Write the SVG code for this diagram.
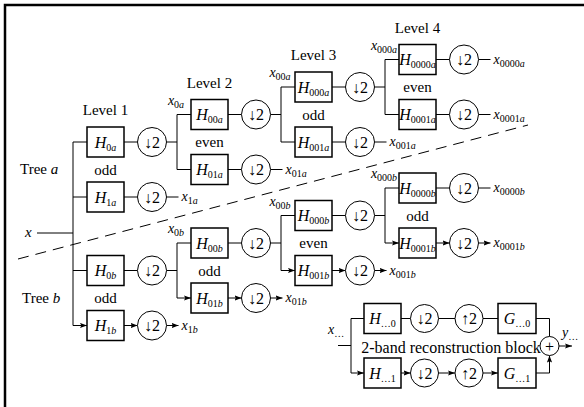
<svg xmlns="http://www.w3.org/2000/svg" width="584" height="407" viewBox="0 0 584 407">
<defs>
<marker id="ah" viewBox="0 0 7 6" refX="7" refY="3" markerWidth="7" markerHeight="6" markerUnits="userSpaceOnUse" orient="auto"><path d="M0,0.4 L7,3 L0,5.6 L1.3,3 z" fill="#000"/></marker>
<style>
.box{fill:#fff;stroke:#000;stroke-width:1.5}
.ds{fill:#fff;stroke:#000;stroke-width:1}
.w{fill:none;stroke:#000;stroke-width:1}
.a{fill:none;stroke:#000;stroke-width:1;marker-end:url(#ah)}
.dash{fill:none;stroke:#000;stroke-width:1;stroke-dasharray:11 7}
text{font-family:"Liberation Serif","Times New Roman",serif;fill:#000}
.m{font-size:16px;font-style:italic;text-anchor:middle}
.c{font-size:16px;text-anchor:middle}
.lb{font-size:15px}
.mid{text-anchor:middle}
.v{font-size:14px;font-style:italic}
.s{font-size:10px;font-style:normal}
.i{font-style:italic}
</style>
</defs>
<path d="M5,407 V5 H584" fill="none" stroke="#000" stroke-width="2.5"/>

<g id="connectors">
<path class="w" d="M37,233 H73 M73,142 V325.5"/>
<path class="a" d="M73,142 H87 M73,197 H87 M73,270.5 H87 M73,325.5 H87"/>
<path class="a" d="M124,142 H137.5 M124,197 H137.5 M124,270.5 H137.5 M124,325.5 H137.5"/>
<path class="a" d="M228,114.5 H241.5 M228,169.5 H241.5 M228,243 H241.5 M228,298 H241.5"/>
<path class="a" d="M332,87 H345.5 M332,142 H345.5 M332,215.5 H345.5 M332,270.5 H345.5"/>
<path class="a" d="M436,59.5 H449.5 M436,114.5 H449.5 M436,188 H449.5 M436,243 H449.5"/>
<path class="w" d="M166.5,142 H177 M177,114.5 V169.5 M166.5,270.5 H177 M177,243 V298"/>
<path class="w" d="M270.5,114.5 H281 M281,87 V142 M270.5,243 H281 M281,215.5 V270.5"/>
<path class="w" d="M374.5,87 H385 M385,59.5 V114.5 M374.5,215.5 H385 M385,188 V243"/>
<path class="a" d="M177,114.5 H191 M177,169.5 H191 M177,243 H191 M177,298 H191"/>
<path class="a" d="M281,87 H295 M281,142 H295 M281,215.5 H295 M281,270.5 H295"/>
<path class="a" d="M385,59.5 H399 M385,114.5 H399 M385,188 H399 M385,243 H399"/>
<path class="a" d="M166.5,197 H178.5 M166.5,325.5 H178.5"/>
<path class="a" d="M270.5,169.5 H282.5 M270.5,298 H282.5"/>
<path class="a" d="M374.5,142 H386.5 M374.5,270.5 H386.5"/>
<path class="a" d="M478.5,59.5 H490.5 M478.5,114.5 H490.5 M478.5,188 H490.5 M478.5,243 H490.5"/>
<path class="dash" d="M18,259 L528,125"/>
<path class="w" d="M338,345.5 H351 M351,318.5 V373"/>
<path class="a" d="M351,318.5 H364 M351,373 H364"/>
<path class="a" d="M401,318.5 H410.5 M401,373 H410.5"/>
<path class="a" d="M438.5,318.5 H455 M438.5,373 H455"/>
<path class="a" d="M483,318.5 H498 M483,373 H498"/>
<path class="a" d="M536,318.5 H549.5 V336.5 M536,373 H549.5 V355.5"/>
<path class="a" d="M559,346 H572"/>
</g>

<g id="labels">
<text class="lb mid" x="105.5" y="115">Level 1</text>
<text class="lb mid" x="209.5" y="87.5">Level 2</text>
<text class="lb mid" x="313.5" y="60">Level 3</text>
<text class="lb mid" x="417.5" y="32.5">Level 4</text>
<text class="lb" x="20" y="174">Tree <tspan class="i">a</tspan></text>
<text class="lb" x="22" y="303">Tree <tspan class="i">b</tspan></text>
<text class="lb mid" x="105.5" y="174.5">odd</text>
<text class="lb mid" x="209.5" y="147">even</text>
<text class="lb mid" x="313.5" y="119.5">odd</text>
<text class="lb mid" x="417.5" y="92">even</text>
<text class="lb mid" x="105.5" y="303">odd</text>
<text class="lb mid" x="209.5" y="275.5">odd</text>
<text class="lb mid" x="313.5" y="248">even</text>
<text class="lb mid" x="417.5" y="220.5">odd</text>
<text class="v" x="25" y="237" style="font-size:15px">x</text>
<text class="v mid" x="176" y="104.5">x<tspan class="s" dy="3">0<tspan class="i">a</tspan></tspan></text>
<text class="v mid" x="280" y="77">x<tspan class="s" dy="3">00<tspan class="i">a</tspan></tspan></text>
<text class="v mid" x="384" y="49.5">x<tspan class="s" dy="3">000<tspan class="i">a</tspan></tspan></text>
<text class="v mid" x="176" y="233">x<tspan class="s" dy="3">0<tspan class="i">b</tspan></tspan></text>
<text class="v mid" x="280" y="205.5">x<tspan class="s" dy="3">00<tspan class="i">b</tspan></tspan></text>
<text class="v mid" x="384" y="178">x<tspan class="s" dy="3">000<tspan class="i">b</tspan></tspan></text>
<text class="v" x="181.5" y="201">x<tspan class="s" dy="3">1<tspan class="i">a</tspan></tspan></text>
<text class="v" x="181.5" y="329.5">x<tspan class="s" dy="3">1<tspan class="i">b</tspan></tspan></text>
<text class="v" x="285.5" y="173.5">x<tspan class="s" dy="3">01<tspan class="i">a</tspan></tspan></text>
<text class="v" x="285.5" y="302">x<tspan class="s" dy="3">01<tspan class="i">b</tspan></tspan></text>
<text class="v" x="389.5" y="146">x<tspan class="s" dy="3">001<tspan class="i">a</tspan></tspan></text>
<text class="v" x="389.5" y="274.5">x<tspan class="s" dy="3">001<tspan class="i">b</tspan></tspan></text>
<text class="v" x="493.5" y="63.5">x<tspan class="s" dy="3">0000<tspan class="i">a</tspan></tspan></text>
<text class="v" x="493.5" y="118.5">x<tspan class="s" dy="3">0001<tspan class="i">a</tspan></tspan></text>
<text class="v" x="493.5" y="192">x<tspan class="s" dy="3">0000<tspan class="i">b</tspan></tspan></text>
<text class="v" x="493.5" y="247">x<tspan class="s" dy="3">0001<tspan class="i">b</tspan></tspan></text>
<text class="v" x="328" y="334">x<tspan class="s" dy="2.5">…</tspan></text>
<text class="v" x="562" y="337">y<tspan class="s" dy="2.5">…</tspan></text>
<text class="c" x="451" y="353">2-band reconstruction block</text>
</g>

<g id="H0a"><rect class="box" x="87" y="127" width="37" height="30"/><text class="m" x="105.5" y="147.5">H<tspan class="s" dy="3">0<tspan class="i">a</tspan></tspan></text></g>
<g id="D0a"><circle class="ds" cx="152" cy="142" r="14.5"/><text class="c" x="152" y="147.5">↓2</text></g>
<g id="H1a"><rect class="box" x="87" y="182" width="37" height="30"/><text class="m" x="105.5" y="202.5">H<tspan class="s" dy="3">1<tspan class="i">a</tspan></tspan></text></g>
<g id="D1a"><circle class="ds" cx="152" cy="197" r="14.5"/><text class="c" x="152" y="202.5">↓2</text></g>
<g id="H00a"><rect class="box" x="191" y="99.5" width="37" height="30"/><text class="m" x="209.5" y="120">H<tspan class="s" dy="3">00<tspan class="i">a</tspan></tspan></text></g>
<g id="D00a"><circle class="ds" cx="256" cy="114.5" r="14.5"/><text class="c" x="256" y="120">↓2</text></g>
<g id="H01a"><rect class="box" x="191" y="154.5" width="37" height="30"/><text class="m" x="209.5" y="175">H<tspan class="s" dy="3">01<tspan class="i">a</tspan></tspan></text></g>
<g id="D01a"><circle class="ds" cx="256" cy="169.5" r="14.5"/><text class="c" x="256" y="175">↓2</text></g>
<g id="H000a"><rect class="box" x="295" y="72" width="37" height="30"/><text class="m" x="313.5" y="92.5">H<tspan class="s" dy="3">000<tspan class="i">a</tspan></tspan></text></g>
<g id="D000a"><circle class="ds" cx="360" cy="87" r="14.5"/><text class="c" x="360" y="92.5">↓2</text></g>
<g id="H001a"><rect class="box" x="295" y="127" width="37" height="30"/><text class="m" x="313.5" y="147.5">H<tspan class="s" dy="3">001<tspan class="i">a</tspan></tspan></text></g>
<g id="D001a"><circle class="ds" cx="360" cy="142" r="14.5"/><text class="c" x="360" y="147.5">↓2</text></g>
<g id="H0000a"><rect class="box" x="399" y="44.5" width="37" height="30"/><text class="m" x="417.5" y="65">H<tspan class="s" dy="3">0000<tspan class="i">a</tspan></tspan></text></g>
<g id="D0000a"><circle class="ds" cx="464" cy="59.5" r="14.5"/><text class="c" x="464" y="65">↓2</text></g>
<g id="H0001a"><rect class="box" x="399" y="99.5" width="37" height="30"/><text class="m" x="417.5" y="120">H<tspan class="s" dy="3">0001<tspan class="i">a</tspan></tspan></text></g>
<g id="D0001a"><circle class="ds" cx="464" cy="114.5" r="14.5"/><text class="c" x="464" y="120">↓2</text></g>

<g id="H0b"><rect class="box" x="87" y="255.5" width="37" height="30"/><text class="m" x="105.5" y="276">H<tspan class="s" dy="3">0<tspan class="i">b</tspan></tspan></text></g>
<g id="D0b"><circle class="ds" cx="152" cy="270.5" r="14.5"/><text class="c" x="152" y="276">↓2</text></g>
<g id="H1b"><rect class="box" x="87" y="310.5" width="37" height="30"/><text class="m" x="105.5" y="331">H<tspan class="s" dy="3">1<tspan class="i">b</tspan></tspan></text></g>
<g id="D1b"><circle class="ds" cx="152" cy="325.5" r="14.5"/><text class="c" x="152" y="331">↓2</text></g>
<g id="H00b"><rect class="box" x="191" y="228" width="37" height="30"/><text class="m" x="209.5" y="248.5">H<tspan class="s" dy="3">00<tspan class="i">b</tspan></tspan></text></g>
<g id="D00b"><circle class="ds" cx="256" cy="243" r="14.5"/><text class="c" x="256" y="248.5">↓2</text></g>
<g id="H01b"><rect class="box" x="191" y="283" width="37" height="30"/><text class="m" x="209.5" y="303.5">H<tspan class="s" dy="3">01<tspan class="i">b</tspan></tspan></text></g>
<g id="D01b"><circle class="ds" cx="256" cy="298" r="14.5"/><text class="c" x="256" y="303.5">↓2</text></g>
<g id="H000b"><rect class="box" x="295" y="200.5" width="37" height="30"/><text class="m" x="313.5" y="221">H<tspan class="s" dy="3">000<tspan class="i">b</tspan></tspan></text></g>
<g id="D000b"><circle class="ds" cx="360" cy="215.5" r="14.5"/><text class="c" x="360" y="221">↓2</text></g>
<g id="H001b"><rect class="box" x="295" y="255.5" width="37" height="30"/><text class="m" x="313.5" y="276">H<tspan class="s" dy="3">001<tspan class="i">b</tspan></tspan></text></g>
<g id="D001b"><circle class="ds" cx="360" cy="270.5" r="14.5"/><text class="c" x="360" y="276">↓2</text></g>
<g id="H0000b"><rect class="box" x="399" y="173" width="37" height="30"/><text class="m" x="417.5" y="193.5">H<tspan class="s" dy="3">0000<tspan class="i">b</tspan></tspan></text></g>
<g id="D0000b"><circle class="ds" cx="464" cy="188" r="14.5"/><text class="c" x="464" y="193.5">↓2</text></g>
<g id="H0001b"><rect class="box" x="399" y="228" width="37" height="30"/><text class="m" x="417.5" y="248.5">H<tspan class="s" dy="3">0001<tspan class="i">b</tspan></tspan></text></g>
<g id="D0001b"><circle class="ds" cx="464" cy="243" r="14.5"/><text class="c" x="464" y="248.5">↓2</text></g>

<g id="Hr0"><rect class="box" x="364" y="303.5" width="37" height="30"/><text class="m" x="382.5" y="324">H<tspan class="s" dy="3">…0</tspan></text></g>
<g id="Dr0"><circle class="ds" cx="424.5" cy="318.5" r="14"/><text class="c" x="424.5" y="324">↓2</text></g>
<g id="Ur0"><circle class="ds" cx="469" cy="318.5" r="14"/><text class="c" x="469" y="324">↑2</text></g>
<g id="Gr0"><rect class="box" x="498" y="303.5" width="38" height="30"/><text class="m" x="517" y="324">G<tspan class="s" dy="3">…0</tspan></text></g>
<g id="Hr1"><rect class="box" x="364" y="358" width="37" height="30"/><text class="m" x="382.5" y="378.5">H<tspan class="s" dy="3">…1</tspan></text></g>
<g id="Dr1"><circle class="ds" cx="424.5" cy="373" r="14"/><text class="c" x="424.5" y="378.5">↓2</text></g>
<g id="Ur1"><circle class="ds" cx="469" cy="373" r="14"/><text class="c" x="469" y="378.5">↑2</text></g>
<g id="Gr1"><rect class="box" x="498" y="358" width="38" height="30"/><text class="m" x="517" y="378.5">G<tspan class="s" dy="3">…1</tspan></text></g>
<g id="Sum"><circle class="ds" cx="549.5" cy="346" r="9.5"/><text class="c" x="549.5" y="351.5">+</text></g>
</svg>
